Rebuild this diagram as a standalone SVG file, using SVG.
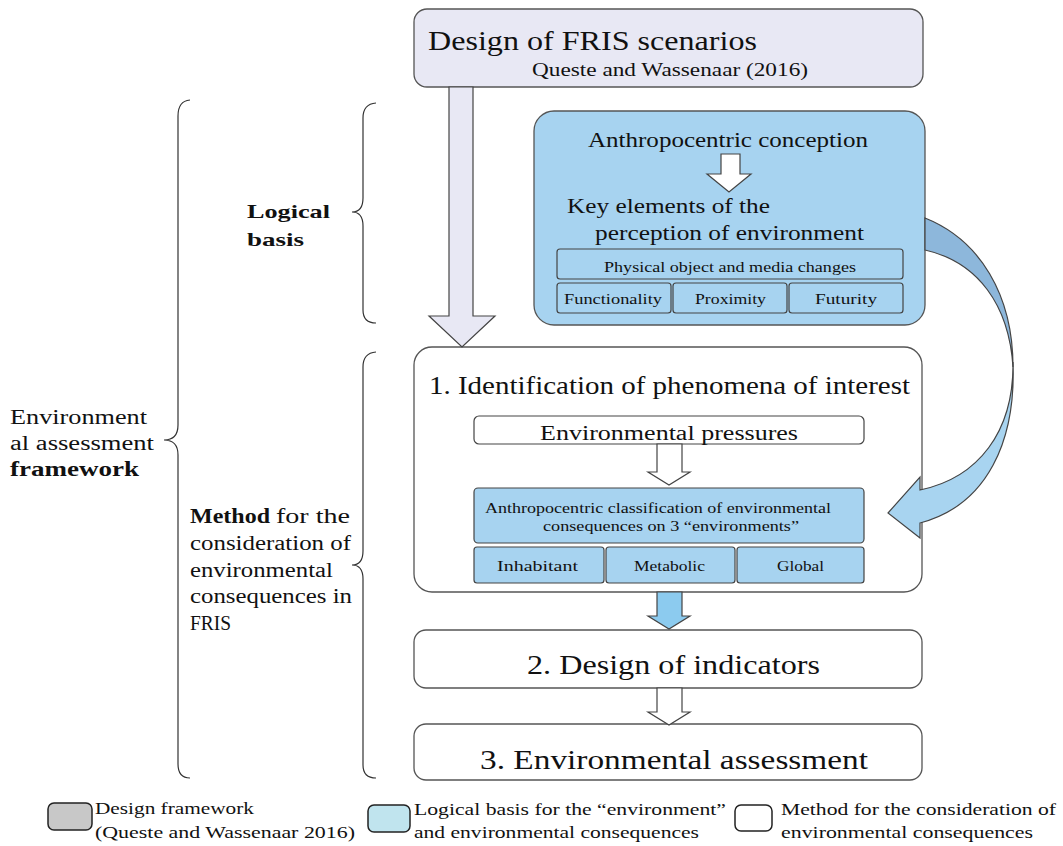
<svg xmlns="http://www.w3.org/2000/svg" width="1063" height="846" viewBox="0 0 1063 846" font-family="Liberation Serif, DejaVu Serif, serif">
<style>
text{fill:#111}
.b{font-weight:bold}
.box{stroke:#555;stroke-width:1.3}
.sub{stroke:#444;stroke-width:1.2}
.arr{stroke:#444;stroke-width:1.2}
.brace{fill:none;stroke:#333;stroke-width:1.2}
</style>
<rect width="1063" height="846" fill="#fff"/>

<g id="n-design">
  <rect class="box" x="414" y="9" width="509" height="78" rx="13" fill="#e8e8f4"/>
  <text x="428" y="50" font-size="28" textLength="329" lengthAdjust="spacingAndGlyphs">Design of FRIS scenarios</text>
  <text x="532" y="76" font-size="19" textLength="276" lengthAdjust="spacingAndGlyphs">Queste and Wassenaar (2016)</text>
</g>

<g id="n-logical">
  <rect class="box" x="534" y="111" width="391" height="214" rx="20" fill="#a7d3f0"/>
  <text x="588" y="147" font-size="22" textLength="280" lengthAdjust="spacingAndGlyphs">Anthropocentric conception</text>
  <text x="567" y="213" font-size="22" textLength="203" lengthAdjust="spacingAndGlyphs">Key elements of the</text>
  <text x="595" y="240" font-size="22" textLength="269" lengthAdjust="spacingAndGlyphs">perception of environment</text>
  <rect class="sub" x="557" y="249" width="346" height="30" rx="3" fill="#a7d3f0"/>
  <text x="604" y="272" font-size="15" textLength="252" lengthAdjust="spacingAndGlyphs">Physical object and media changes</text>
  <rect class="sub" x="557" y="283" width="114" height="30" rx="3" fill="#a7d3f0"/>
  <text x="564" y="304" font-size="15" textLength="98" lengthAdjust="spacingAndGlyphs">Functionality</text>
  <rect class="sub" x="673" y="283" width="114" height="30" rx="3" fill="#a7d3f0"/>
  <text x="695" y="304" font-size="15" textLength="71" lengthAdjust="spacingAndGlyphs">Proximity</text>
  <rect class="sub" x="789" y="283" width="114" height="30" rx="3" fill="#a7d3f0"/>
  <text x="815" y="304" font-size="15" textLength="62" lengthAdjust="spacingAndGlyphs">Futurity</text>
</g>

<g id="n-step1">
  <rect class="box" x="414" y="347" width="508" height="245" rx="18" fill="#fff"/>
  <text x="429" y="394" font-size="25" textLength="481" lengthAdjust="spacingAndGlyphs">1. Identification of phenomena of interest</text>
  <rect class="sub" x="474" y="416" width="390" height="28" rx="5" fill="#fff"/>
  <text x="540" y="440" font-size="20" textLength="258" lengthAdjust="spacingAndGlyphs">Environmental pressures</text>
  <rect class="sub" x="474" y="488" width="390" height="55" rx="4" fill="#a7d3f0"/>
  <text x="485" y="513" font-size="15" textLength="346" lengthAdjust="spacingAndGlyphs">Anthropocentric classification of environmental</text>
  <text x="543" y="531" font-size="15" textLength="256" lengthAdjust="spacingAndGlyphs">consequences on 3 “environments”</text>
  <rect class="sub" x="474" y="547" width="130" height="36" rx="3" fill="#a7d3f0"/>
  <text x="497" y="571" font-size="15" textLength="81" lengthAdjust="spacingAndGlyphs">Inhabitant</text>
  <rect class="sub" x="606" y="547" width="129" height="36" rx="3" fill="#a7d3f0"/>
  <text x="634" y="571" font-size="15" textLength="71" lengthAdjust="spacingAndGlyphs">Metabolic</text>
  <rect class="sub" x="737" y="547" width="127" height="36" rx="3" fill="#a7d3f0"/>
  <text x="777" y="571" font-size="15" textLength="47" lengthAdjust="spacingAndGlyphs">Global</text>
</g>

<g id="n-step2">
  <rect class="box" x="414" y="630" width="508" height="58" rx="12" fill="#fff"/>
  <text x="527" y="674" font-size="28" textLength="293" lengthAdjust="spacingAndGlyphs">2. Design of indicators</text>
</g>

<g id="n-step3">
  <rect class="box" x="414" y="724" width="508" height="56" rx="12" fill="#fff"/>
  <text x="480" y="769" font-size="28" textLength="388" lengthAdjust="spacingAndGlyphs">3. Environmental assessment</text>
</g>

<g id="connectors">
  <polygon class="arr" fill="#e8e8f4" points="449,87 473,87 473,316 495,316 462,347 429,316 449,316"/>
  <polygon class="arr" fill="#fff" points="721,154 740,154 740,174 751,174 729,192 707,174 721,174"/>
  <polygon class="arr" fill="#fff" points="657,444 682,444 682,472 690,472 669,485 648,472 657,472"/>
  <polygon class="arr" fill="#8ccbef" points="657,592 682,592 682,616 690,616 669,629 648,616 657,616"/>
  <polygon class="arr" fill="#fff" points="657,688 682,688 682,712 690,712 669,725 648,712 657,712"/>
  <path class="arr" fill="#8db7db" d="M925,218 C980,240 1013,295 1013,367 C1009,305 978,262 925,250 Z"/>
  <path class="arr" fill="#a8d4f0" d="M1013,362 C1014,432 978,478 920,490 L920,477 L888,513 L920,538 L920,523 C988,505 1016,440 1013,362 Z"/>
</g>

<g id="braces">
  <path class="brace" d="M190,100 Q178,101 178,116 L178,425 Q178,440 164,440 Q178,440 178,455 L178,764 Q178,778 190,778"/>
  <path class="brace" d="M376,103 Q363,104 363,118 L363,198 Q363,212 352,212 Q363,212 363,226 L363,310 Q363,323 376,323"/>
  <path class="brace" d="M376,352 Q363,353 363,367 L363,551 Q363,565 352,565 Q363,565 363,579 L363,765 Q363,778 376,778"/>
</g>

<g id="labels">
  <text x="10" y="424" font-size="20" textLength="137" lengthAdjust="spacingAndGlyphs">Environment</text>
  <text x="10" y="450" font-size="20" textLength="144" lengthAdjust="spacingAndGlyphs">al assessment</text>
  <text class="b" x="10" y="476" font-size="20" textLength="129" lengthAdjust="spacingAndGlyphs">framework</text>
  <text class="b" x="247" y="218" font-size="19" textLength="83" lengthAdjust="spacingAndGlyphs">Logical</text>
  <text class="b" x="247" y="246" font-size="19" textLength="57" lengthAdjust="spacingAndGlyphs">basis</text>
  <text class="b" x="190" y="523" font-size="20" textLength="80" lengthAdjust="spacingAndGlyphs">Method</text>
  <text x="276" y="523" font-size="20" textLength="74" lengthAdjust="spacingAndGlyphs">for the</text>
  <text x="190" y="550" font-size="20" textLength="161" lengthAdjust="spacingAndGlyphs">consideration of</text>
  <text x="190" y="577" font-size="20" textLength="143" lengthAdjust="spacingAndGlyphs">environmental</text>
  <text x="190" y="603" font-size="20" textLength="162" lengthAdjust="spacingAndGlyphs">consequences in</text>
  <text x="190" y="630" font-size="20" textLength="41" lengthAdjust="spacingAndGlyphs">FRIS</text>
</g>

<g id="legend">
  <rect x="48" y="803" width="44" height="27" rx="6" fill="#c8c8c8" stroke="#222" stroke-width="1.5"/>
  <text x="95" y="814" font-size="17" textLength="159" lengthAdjust="spacingAndGlyphs">Design framework</text>
  <text x="95" y="838" font-size="17" textLength="260" lengthAdjust="spacingAndGlyphs">(Queste and Wassenaar 2016)</text>
  <rect x="368" y="805" width="42" height="27" rx="6" fill="#c0e4ee" stroke="#222" stroke-width="1.5"/>
  <text x="414" y="815" font-size="17" textLength="312" lengthAdjust="spacingAndGlyphs">Logical basis for the “environment”</text>
  <text x="414" y="838" font-size="17" textLength="285" lengthAdjust="spacingAndGlyphs">and environmental consequences</text>
  <rect x="735" y="805" width="37" height="26" rx="6" fill="#fff" stroke="#222" stroke-width="1.5"/>
  <text x="781" y="815" font-size="17" textLength="275" lengthAdjust="spacingAndGlyphs">Method for the consideration of</text>
  <text x="781" y="838" font-size="17" textLength="252" lengthAdjust="spacingAndGlyphs">environmental consequences</text>
</g>
</svg>
